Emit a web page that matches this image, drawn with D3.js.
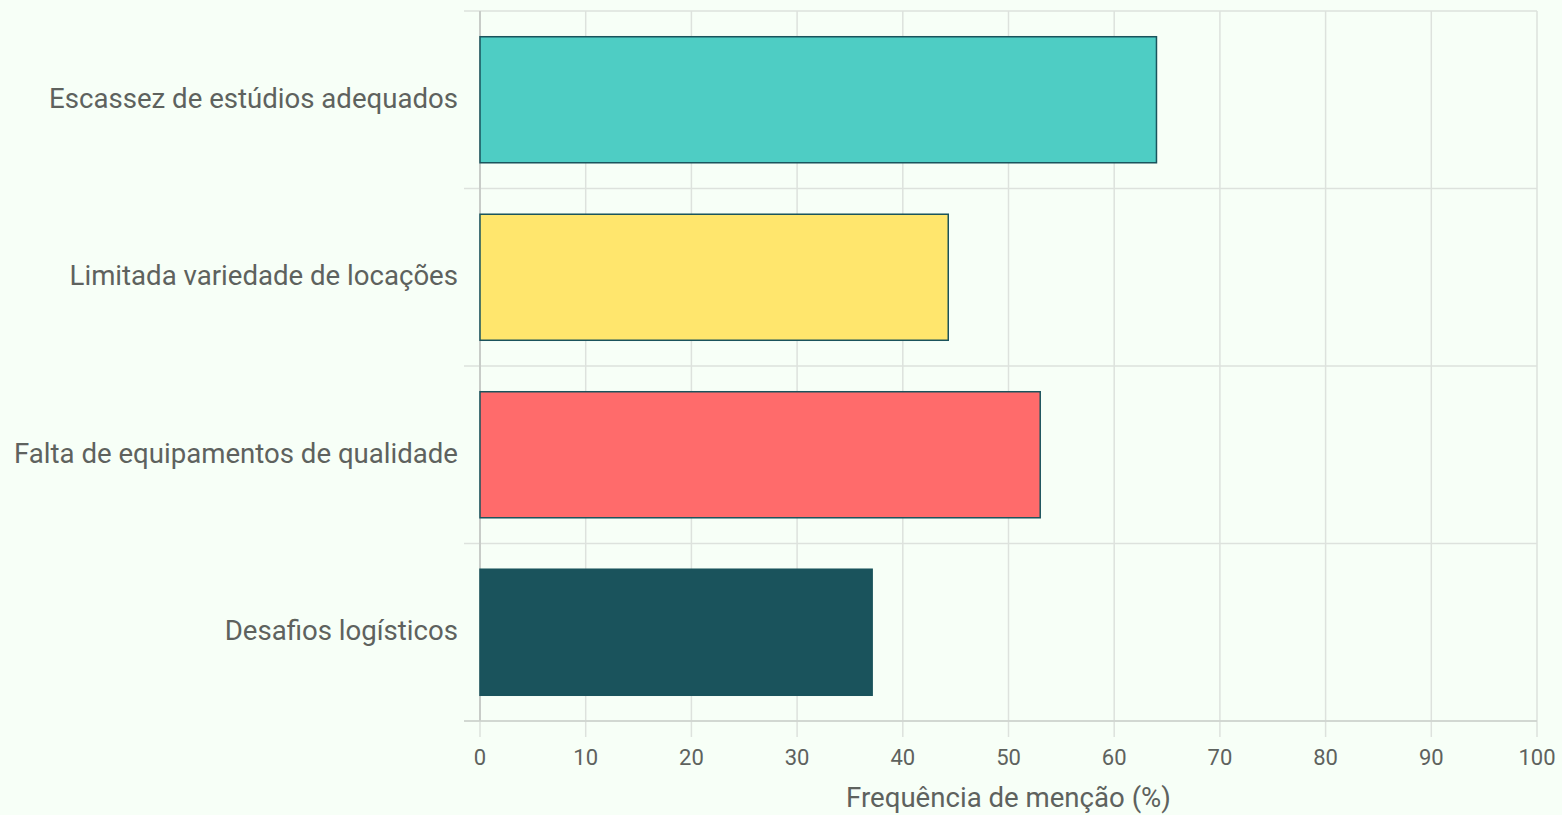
<!DOCTYPE html>
<html><head><meta charset="utf-8">
<script src="https://cdn.jsdelivr.net/npm/d3@7"></script>
<style>
html,body{margin:0;padding:0;background:#F7FFF7;}
svg{display:block;font-family:Roboto, "Noto Sans", sans-serif;}
</style></head>
<body><svg id="chart" width="1562" height="815"></svg>
<script>
const categories = ["Escassez de estúdios adequados","Limitada variedade de locações","Falta de equipamentos de qualidade","Desafios logísticos"];
const values = [64, 44.3, 53, 37.1];
const colors = ["#4ECDC4","#FFE66D","#FF6B6B","#1A535C"];
const xTicks = [0,10,20,30,40,50,60,70,80,90,100];
const xTitle = "Frequência de menção (%)";

const svg = d3.select("#chart");
const m = {left:480, right:25, top:11, bottom:94};
const W = 1562, H = 815;
const x = d3.scaleLinear().domain([0,100]).range([m.left, W-m.right]);
const y = d3.scaleBand().domain(categories).range([m.top, H-m.bottom]).paddingInner(0.29).paddingOuter(0.145);
const yb = d3.scaleBand().domain(categories).range([m.top, H-m.bottom]);
const gridCol = "#DDE2DD", textCol = "#5E625E";

// vertical grid + ticks
svg.append("g").selectAll("line").data(xTicks).join("line")
  .attr("x1", d=>x(d)).attr("x2", d=>x(d)).attr("y1", m.top).attr("y2", H-m.bottom+16)
  .attr("stroke", gridCol).attr("stroke-width", 1.5);
// horizontal band boundaries
const bounds = categories.map(c=>yb(c)).concat([H-m.bottom]);
svg.append("g").selectAll("line").data(bounds).join("line")
  .attr("x1", m.left-16).attr("x2", x(100)).attr("y1", d=>d).attr("y2", d=>d)
  .attr("stroke", gridCol).attr("stroke-width", 1.5);
// left axis line
svg.append("line").attr("x1", m.left).attr("x2", m.left).attr("y1", m.top).attr("y2", H-m.bottom)
  .attr("stroke", "#C8CCC8").attr("stroke-width", 2);
// bottom axis line
svg.append("line").attr("x1", m.left-16).attr("x2", x(100)).attr("y1", H-m.bottom).attr("y2", H-m.bottom)
  .attr("stroke", "#CDD2CD").attr("stroke-width", 1.5);

// bars
svg.append("g").selectAll("rect").data(categories).join("rect")
  .attr("x", x(0)).attr("y", d=>y(d)).attr("width", (d,i)=>x(values[i])-x(0)).attr("height", y.bandwidth())
  .attr("fill", (d,i)=>colors[i]).attr("stroke", "#1A535C").attr("stroke-width", 1.5);

// category labels
svg.append("g").selectAll("text").data(categories).join("text")
  .attr("x", m.left-22).attr("y", d=>yb(d)+yb.bandwidth()/2+8)
  .attr("text-anchor","end").attr("font-size", 27.6).attr("fill", textCol).text(d=>d);

// tick labels
svg.append("g").selectAll("text").data(xTicks).join("text")
  .attr("x", d=>x(d)).attr("y", H-m.bottom+44).attr("text-anchor","middle")
  .attr("font-size", 22).attr("fill", textCol).text(d=>d);

svg.append("text").attr("x", (x(0)+x(100))/2).attr("y", 807).attr("text-anchor","middle")
  .attr("font-size", 27.6).attr("fill", textCol).text(xTitle);
</script></body></html>
